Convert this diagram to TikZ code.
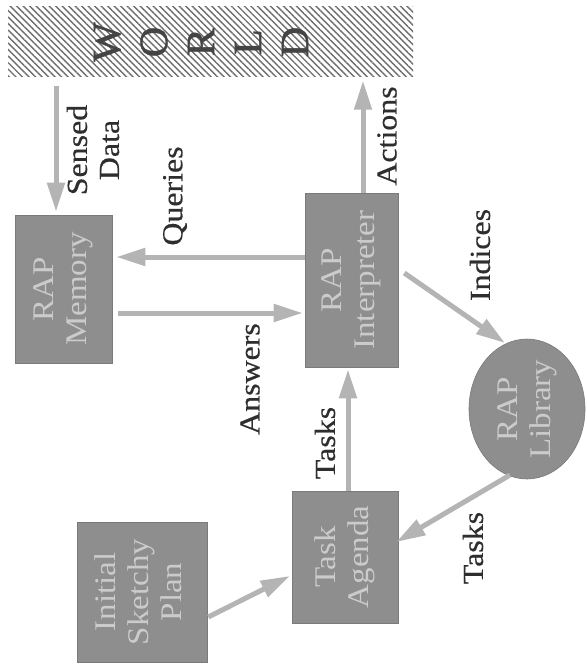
\documentclass[tikz,border=0pt]{standalone}
\usepackage{fontspec}
\setmainfont{Liberation Serif}[FakeStretch=1.1]
\newfontfamily\labfont{Liberation Serif}[FakeStretch=1.1,FakeBold=0.5]
\newfontfamily\worldfont{Liberation Serif}[FakeStretch=1.05,FakeBold=1.2]
\usetikzlibrary{arrows.meta,shapes.geometric,patterns.meta,calc}
\definecolor{boxgray}{HTML}{8E8E8E}
\definecolor{boxedge}{HTML}{7A7A7A}
\definecolor{boxtext}{HTML}{CBCBCB}
\definecolor{arrgray}{HTML}{B4B4B4}
\definecolor{labtext}{HTML}{2E2E2E}
\definecolor{hatchgray}{HTML}{6E6E6E}
\definecolor{worldletter}{HTML}{444444}
\newcommand\rtxt[1]{\rotatebox{90}{\begin{tabular}{@{}c@{}}#1\end{tabular}}}
\begin{document}
\begin{tikzpicture}[x=1pt,y=-1pt,
  box/.style={draw=boxedge, line width=0.6pt, fill=boxgray, text=boxtext, inner sep=0pt,
    font=\fontsize{30}{33}\selectfont},
  lab/.style={rotate=90, align=center, text=labtext, inner sep=0pt,
    font=\labfont\fontsize{29}{32}\selectfont},
  arr/.style={draw=arrgray, line width=5pt, -{Triangle[length=29pt,width=17pt]}},
]
\useasboundingbox (0,0) rectangle (586,666);
\fill[white] (0,0) rectangle (586,666);

% WORLD
\node[minimum width=405pt, minimum height=70pt, inner sep=0pt,
  pattern={Lines[angle=-45,distance=4.6pt,line width=1.4pt]}, pattern color=hatchgray]
  (world) at (210.5,42) {};
\node[rotate=90, align=center, text=worldletter, inner sep=0pt,
  font=\worldfont\fontsize{40}{47}\selectfont] (worldtext) at (201,42) {W\\O\\R\\L\\D};

% boxes
\node[box, minimum width=97pt, minimum height=148pt] (mem) at (63.5,289) {\rtxt{RAP\\Memory}};
\node[box, minimum width=93pt, minimum height=174pt] (interp) at (351.5,280) {\rtxt{RAP\\Interpreter}};
\node[box, ellipse, minimum width=116pt, minimum height=138pt] (lib) at (527,409) {\rtxt{RAP\\Library}};
\node[box, minimum width=106pt, minimum height=132pt] (agenda) at (345,557) {\rtxt{Task\\Agenda}};
\node[box, minimum width=130pt, minimum height=140pt] (plan) at (142,592) {\rtxt{Initial\\Sketchy\\Plan}};

% connectors
\draw[arr] ($(world.south -| mem.north)+(-7.5,8)$) -- ($(mem.north)+(-7.5,-3)$);
\draw[arr] ($(interp.north)+(11.5,0)$) -- ($(world.south -| interp.north)+(11.5,3)$);
\draw[arr] ($(interp.west)+(0,-23)$) -- ($(interp.west -| mem.east)+(4,-23)$);
\draw[arr] ($(interp.west -| mem.east)+(6,33)$) -- ($(interp.west)+(-2,33)$);
\draw[arr] ($(interp.east)+(6,-7)$) -- ($(lib.center)+(-22,-66)$);
\draw[arr] ($(agenda.north)+(3,0)$) -- ($(agenda.north |- interp.south)+(3,2)$);
\draw[arr] ($(lib.center)+(-17,66)$) -- ($(agenda.east)+(-2,-15)$);
\draw[arr] ($(plan.east)+(1,25)$) -- ($(agenda.west)+(-2,19)$);

% labels
\node[lab] (lsensed) at (93,150) {Sensed\\Data};
\node[lab] (lqueries) at (175,196) {Queries};
\node[lab] (lanswers) at (250,379) {Answers};
\node[lab] (lactions) at (387,136) {Actions};
\node[lab] (lindices) at (480,255) {Indices};
\node[lab] (ltasksa) at (325,443) {Tasks};
\node[lab] (ltasksb) at (473,548) {Tasks};
\end{tikzpicture}
\end{document}
